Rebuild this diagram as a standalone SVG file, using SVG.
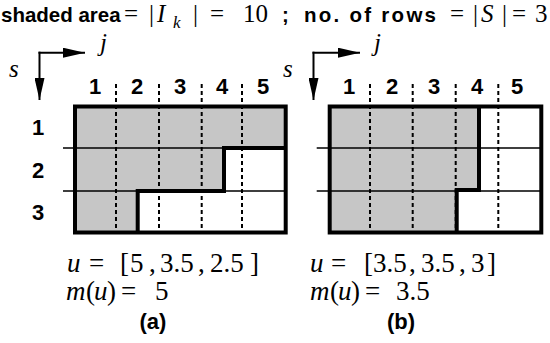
<svg xmlns="http://www.w3.org/2000/svg" width="550" height="343" viewBox="0 0 550 343">
<style>
.b{font-family:"Liberation Sans",Arial,sans-serif;font-weight:bold;fill:#000}
.m{font-family:"Liberation Serif","DejaVu Serif",serif;fill:#000}
.i{font-style:italic}
.shade{fill:#c6c6c6;stroke:none}
.thin{stroke:#000;stroke-width:1.5;fill:none}
.dash{stroke:#000;stroke-width:2;stroke-dasharray:4 3;fill:none}
.thick{stroke:#000;stroke-width:4;fill:none;stroke-linejoin:miter}
.arr{stroke:#000;stroke-width:2;fill:none}
</style>
<defs>
<marker id="ah" viewBox="0 0 22 10" refX="22" refY="5" markerWidth="22" markerHeight="10" markerUnits="userSpaceOnUse" orient="auto">
<path d="M0,0 L22,5 L0,10 z" fill="#000"/>
</marker>
</defs>
<rect width="550" height="343" fill="#fff"/>

<g id="title">
<text y="22" font-size="20.5" class="b" x="1">shaded area</text>
<text y="22" font-size="25" class="m"><tspan x="124">=</tspan><tspan x="149">|</tspan><tspan x="157" class="i">I</tspan><tspan x="173" y="28" font-size="17" class="i">k</tspan><tspan x="193" y="22">|</tspan><tspan x="210">=</tspan><tspan x="243">10</tspan></text>
<text y="22" font-size="20.5" class="b" x="282">;</text>
<text y="22" font-size="20.5" class="b" x="304" textLength="132">no. of rows</text>
<text y="22" font-size="25" class="m"><tspan x="450">=</tspan><tspan x="473">|</tspan><tspan x="481" class="i">S</tspan><tspan x="502">|</tspan><tspan x="512">=</tspan><tspan x="535">3</tspan></text>
</g>

<g id="axes-a">
<path class="arr" d="M39.5,51.7 L39.5,100" marker-end="url(#ah)"/>
<path class="arr" d="M38.5,52.7 L85,52.7" marker-end="url(#ah)"/>
<text x="9" y="77" font-size="25" class="m i">s</text>
<text x="100" y="51" font-size="25" class="m i">j</text>
</g>

<g id="axes-b">
<path class="arr" d="M313.5,51.7 L313.5,100" marker-end="url(#ah)"/>
<path class="arr" d="M312.5,52.7 L360,52.7" marker-end="url(#ah)"/>
<text x="283" y="77" font-size="25" class="m i">s</text>
<text x="374" y="51" font-size="25" class="m i">j</text>
</g>

<g id="grid-a">
<path class="shade" d="M75,106.5 H285.7 V148 H224 V191 H137.7 V232.5 H75 Z"/>
<path class="thin" d="M63,148 H285.7 M63,191 H285.7"/>
<path class="dash" d="M116,84 V229 M159,84 V229 M201.7,84 V229 M242,84 V229"/>
<path class="thick" d="M285.7,148 H224 V191 H137.7 V232.5"/>
<rect class="thick" x="75" y="106.5" width="210.7" height="126"/>
<text class="b" font-size="22" text-anchor="middle" y="94"><tspan x="95">1</tspan><tspan x="137">2</tspan><tspan x="180">3</tspan><tspan x="222">4</tspan><tspan x="263">5</tspan></text>
<text class="b" font-size="22" text-anchor="middle" x="38" y="135">1</text>
<text class="b" font-size="22" text-anchor="middle" x="38" y="178">2</text>
<text class="b" font-size="22" text-anchor="middle" x="38" y="220">3</text>
</g>

<g id="grid-b">
<path class="shade" d="M329.7,106.5 H479 V190 H456.7 V232.5 H329.7 Z"/>
<path class="thin" d="M316.7,148 H541.3 M316.7,191 H541.3"/>
<path class="dash" d="M370,84 V229 M412.7,84 V229 M455.7,84 V229 M498.3,84 V229"/>
<path class="thick" d="M479,106.5 V190 H456.7 V232.5"/>
<rect class="thick" x="329.7" y="106.5" width="211.6" height="126"/>
<text class="b" font-size="22" text-anchor="middle" y="94"><tspan x="349">1</tspan><tspan x="392">2</tspan><tspan x="434">3</tspan><tspan x="477">4</tspan><tspan x="517">5</tspan></text>
</g>

<g id="label-a">
<text class="m" font-size="27" y="272"><tspan x="67" class="i">u</tspan><tspan x="89">=</tspan><tspan x="120">[</tspan><tspan x="130">5</tspan><tspan x="149">,</tspan><tspan x="160">3.5</tspan><tspan x="198">,</tspan><tspan x="210">2.5</tspan><tspan x="250">]</tspan></text>
<text class="m" font-size="27" y="300"><tspan x="66" class="i">m</tspan><tspan x="86">(</tspan><tspan x="94" class="i">u</tspan><tspan x="107">)</tspan><tspan x="121">=</tspan><tspan x="155">5</tspan></text>
<text class="b" font-size="22" text-anchor="middle" x="153" y="329">(a)</text>
</g>

<g id="label-b">
<text class="m" font-size="27" y="272"><tspan x="310" class="i">u</tspan><tspan x="331">=</tspan><tspan x="364">[</tspan><tspan x="373">3.5</tspan><tspan x="409">,</tspan><tspan x="421">3.5</tspan><tspan x="459">,</tspan><tspan x="471">3</tspan><tspan x="487">]</tspan></text>
<text class="m" font-size="27" y="300"><tspan x="310" class="i">m</tspan><tspan x="330">(</tspan><tspan x="338" class="i">u</tspan><tspan x="351">)</tspan><tspan x="365">=</tspan><tspan x="396">3.5</tspan></text>
<text class="b" font-size="22" text-anchor="middle" x="401" y="329">(b)</text>
</g>
</svg>
